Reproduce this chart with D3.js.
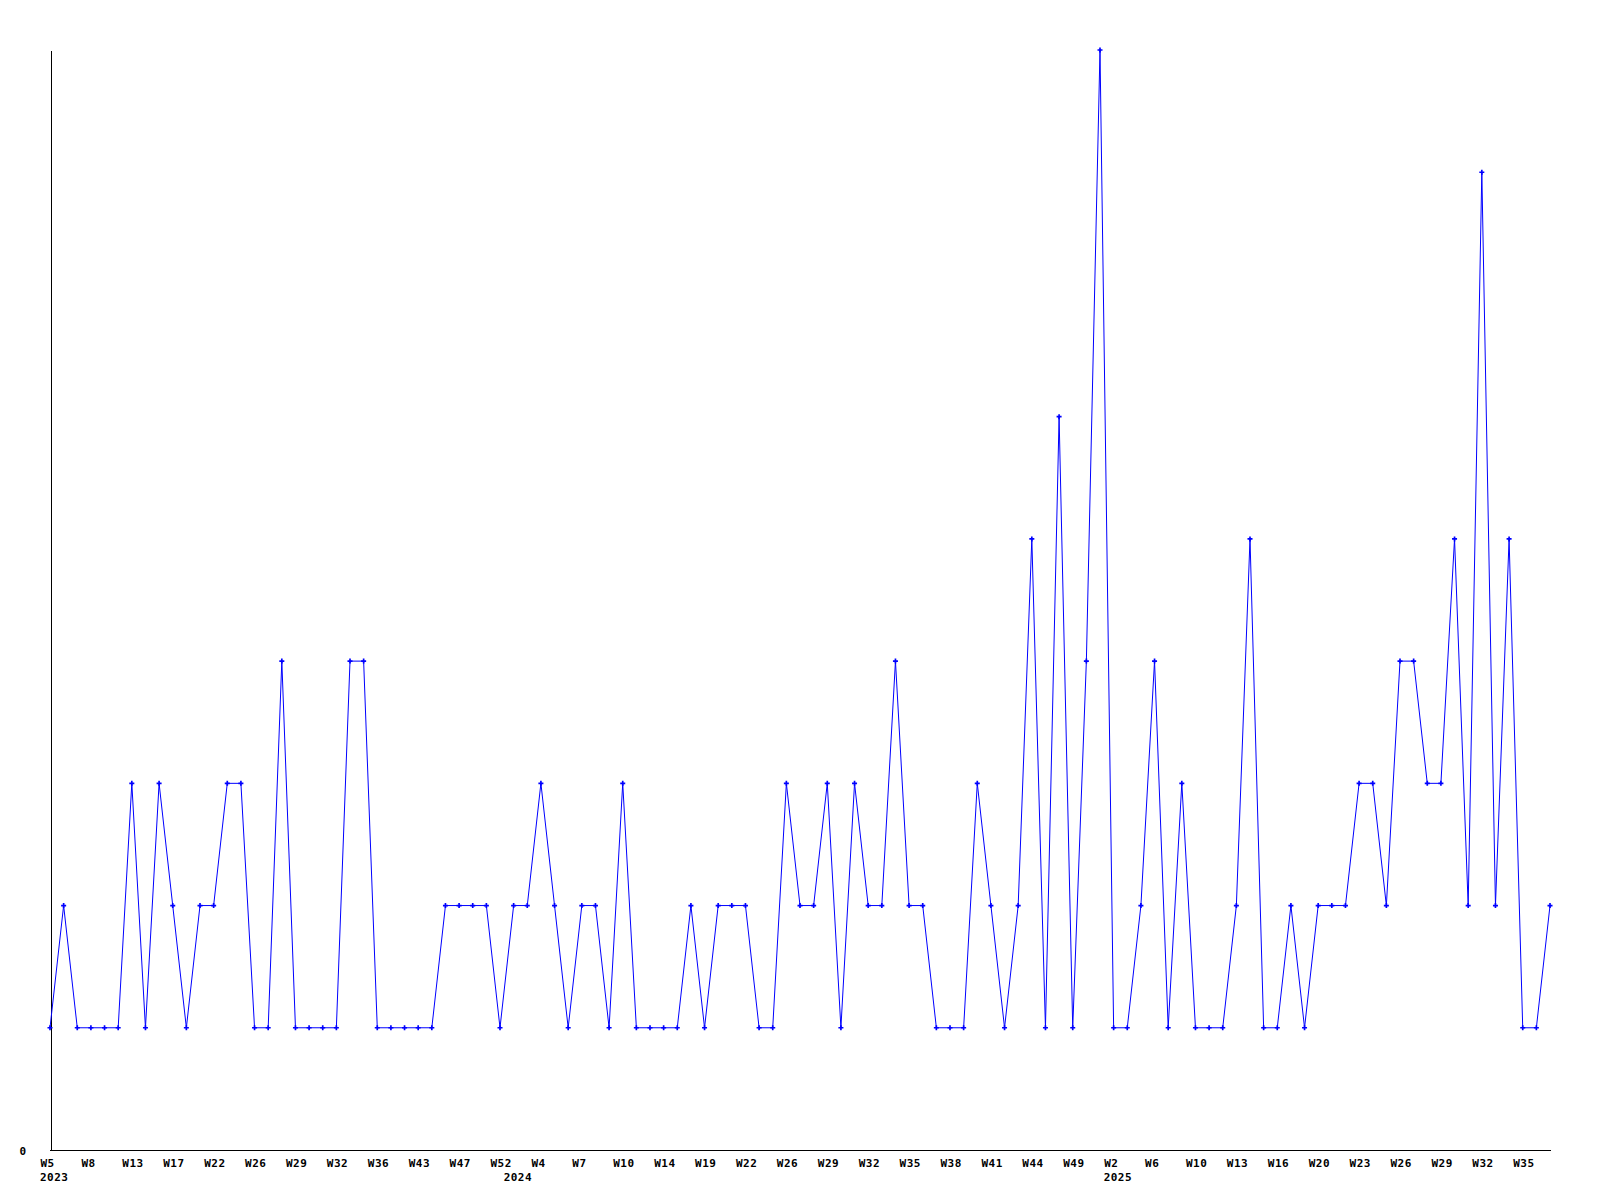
<!DOCTYPE html>
<html>
<head>
<meta charset="utf-8">
<script src="https://cdn.jsdelivr.net/npm/d3@7"></script>
<style>
    body { margin: 0; background: #fff; }
    #chart text { font-family: "DejaVu Sans Mono", monospace; font-weight: bold; font-size: 11px; letter-spacing: 0.5px; fill: #000; }
</style>
</head>
<body>
<div id="chart"></div>
<script>
// weekly categories (only every third label is shown on the axis)
const years = ["2023", "2024", "2025"];
const weeks2023 = ["W5", "W6", "W7", "W8", "W10", "W11", "W13", "W14", "W16", "W17", "W19", "W20",
    "W22", "W23", "W24", "W26", "W27", "W28", "W29", "W30", "W31", "W32", "W33", "W34",
    "W36", "W38", "W40", "W43", "W44", "W45", "W47", "W49", "W50", "W52"];
const weeks2024 = ["W1", "W2", "W4", "W5", "W6", "W7", "W8", "W9", "W10", "W11", "W12", "W14",
    "W16", "W17", "W19", "W20", "W21", "W22", "W24", "W25", "W26", "W27", "W28", "W29",
    "W30", "W31", "W32", "W33", "W34", "W35", "W36", "W37", "W38", "W39", "W40", "W41",
    "W42", "W43", "W44", "W46", "W47", "W49", "W50", "W51"];
const weeks2025 = ["W2", "W3", "W4", "W6", "W7", "W8", "W10", "W11", "W12", "W13", "W14", "W15",
    "W16", "W18", "W19", "W20", "W21", "W22", "W23", "W24", "W25", "W26", "W27", "W28",
    "W29", "W30", "W31", "W32", "W33", "W34", "W35", "W36", "W37"];

const values = [
    1, 2, 1, 1, 1, 1, 3, 1, 3, 2, 1, 2, 2, 3, 3, 1, 1, 4, 1, 1, 1, 1, 4, 4, 1, 1, 1, 1, 1, 2, 2, 2, 2, 1,
    2, 2, 3, 2, 1, 2, 2, 1, 3, 1, 1, 1, 1, 2, 1, 2, 2, 2, 1, 1, 3, 2, 2, 3, 1, 3, 2, 2, 4, 2, 2, 1,
    1, 1, 3, 2, 1, 2, 5, 1, 6, 1, 4, 9,
    1, 1, 2, 4, 1, 3, 1, 1, 1, 2, 5, 1, 1, 2, 1, 2, 2, 2, 3, 3, 2, 4, 4, 3, 3, 5, 2, 8, 2, 5, 1, 1, 2
];

const yTicks = [0];

const categories = [
    ...weeks2023.map(w => `${years[0]}-${w}`),
    ...weeks2024.map(w => `${years[1]}-${w}`),
    ...weeks2025.map(w => `${years[2]}-${w}`)
];
const data = categories.map((c, i) => ({ key: c, year: c.split("-")[0], week: c.split("-")[1], value: values[i] }));

const width = 1600;
const height = 1200;

const svg = d3.select("#chart")
    .append("svg")
    .attr("width", width)
    .attr("height", height);

const x = d3.scalePoint()
    .domain(categories)
    .range([50, 1550]);

const y = d3.scaleLinear()
    .domain([0, 9])
    .range([1150, 50]);

// x axis: every third week, label starts a bit left of its point
const xAxis = d3.axisBottom(x)
    .tickValues(categories.filter((c, i) => i % 3 === 0))
    .tickSize(0)
    .tickSizeOuter(0)
    .tickFormat(c => c.split("-")[1]);

const gx = svg.append("g")
    .attr("transform", "translate(0,1150.5)")
    .call(xAxis);
gx.select(".domain").attr("stroke", "#000").attr("shape-rendering", "crispEdges")
    .attr("d", "M50,0H1551");
gx.selectAll("text")
    .attr("text-anchor", "start")
    .attr("x", -10)
    .attr("y", 16)
    .attr("dy", null);

// year under the first week of each year
const yearStarts = data.filter((d, i) => i === 0 || d.year !== data[i - 1].year);
svg.append("g")
    .selectAll("text")
    .data(yearStarts)
    .join("text")
    .attr("x", d => x(d.key) - 10)
    .attr("y", 1181)
    .text(d => d.year);

const yAxis = d3.axisLeft(y)
    .tickValues(yTicks)
    .tickSize(0)
    .tickSizeOuter(0)
    .tickPadding(24);

const gy = svg.append("g")
    .attr("transform", "translate(50.5,0)")
    .call(yAxis);
gy.select(".domain").attr("stroke", "#000").attr("shape-rendering", "crispEdges");
gy.selectAll("text").attr("dy", "0.4em");

const line = d3.line()
    .x(d => x(d.key))
    .y(d => y(d.value));

svg.append("path")
    .datum(data)
    .attr("fill", "none")
    .attr("stroke", "#0000ff")
    .attr("stroke-width", 1)
    .attr("d", line);

svg.append("g")
    .selectAll("path")
    .data(data)
    .join("path")
    .attr("transform", d => `translate(${x(d.key)},${y(d.value)})`)
    .attr("d", d3.symbol(d3.symbolCross, 14))
    .attr("fill", "#0000ff");
</script>
</body>
</html>
